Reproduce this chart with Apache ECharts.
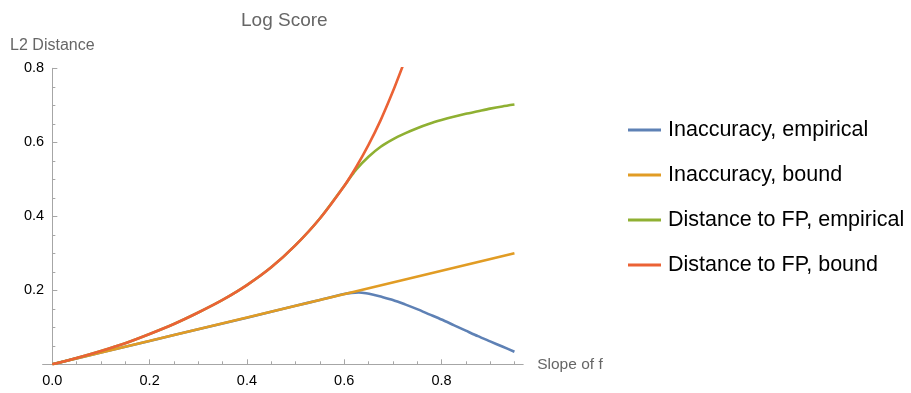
<!DOCTYPE html>
<html>
<head>
<meta charset="utf-8">
<script src="https://cdn.jsdelivr.net/npm/echarts@6/dist/echarts.min.js"></script>
<style>
html,body{margin:0;padding:0;background:#fff;}
#chart{width:911px;height:393px;}
</style>
</head>
<body>
<div id="chart"></div>
<script>
// ---- data ----
const seriesNames = ["Inaccuracy, empirical", "Inaccuracy, bound", "Distance to FP, empirical", "Distance to FP, bound"];
const colors = ["#5E81B5", "#E19C24", "#8FB032", "#EB6235"];

const blueX = [0, 0.1, 0.2, 0.3, 0.4, 0.5, 0.55, 0.6, 0.615, 0.63, 0.645, 0.66, 0.675, 0.7, 0.725, 0.75, 0.775, 0.8, 0.825, 0.85, 0.875, 0.9, 0.925, 0.95];
const blueY = [0, 0.032, 0.063, 0.095, 0.126, 0.158, 0.174, 0.190, 0.193, 0.194, 0.192, 0.188, 0.183, 0.174, 0.162, 0.149, 0.135, 0.121, 0.106, 0.091, 0.076, 0.062, 0.048, 0.034];

const orangeX = [0, 0.95];
const orangeY = [0, 0.300];

const greenX = [0, 0.05, 0.1, 0.15, 0.2, 0.25, 0.3, 0.35, 0.4, 0.45, 0.5, 0.55, 0.6, 0.612, 0.625, 0.65, 0.675, 0.7, 0.725, 0.75, 0.775, 0.8, 0.825, 0.85, 0.875, 0.9, 0.925, 0.95];
const greenY = [0, 0.017, 0.036, 0.057, 0.082, 0.109, 0.140, 0.174, 0.214, 0.262, 0.322, 0.394, 0.482, 0.504, 0.527, 0.561, 0.588, 0.608, 0.624, 0.638, 0.650, 0.660, 0.669, 0.677, 0.684, 0.691, 0.697, 0.702];

const redX = [0, 0.05, 0.1, 0.15, 0.2, 0.25, 0.3, 0.35, 0.4, 0.45, 0.5, 0.55, 0.6, 0.625, 0.65, 0.675, 0.7, 0.72];
const redY = [0, 0.017, 0.036, 0.057, 0.082, 0.109, 0.140, 0.174, 0.214, 0.262, 0.322, 0.394, 0.482, 0.534, 0.593, 0.660, 0.737, 0.805];

const xMajorTicks = [0, 0.2, 0.4, 0.6, 0.8];
const xMinorTicks = [0.05, 0.1, 0.15, 0.25, 0.3, 0.35, 0.45, 0.5, 0.55, 0.65, 0.7, 0.75, 0.85, 0.9, 0.95];
const yMajorTicks = [0.2, 0.4, 0.6, 0.8];
const yMinorTicks = [0.05, 0.1, 0.15, 0.25, 0.3, 0.35, 0.45, 0.5, 0.55, 0.65, 0.7, 0.75];

const titleText = "Log Score";
const xName = "Slope of f";
const yName = "L2 Distance";

// ---- build chart ----
const zip = (xs, ys) => xs.map((x, i) => [x, ys[i]]);
const allData = [zip(blueX, blueY), zip(orangeX, orangeY), zip(greenX, greenY), zip(redX, redY)];

const axisGray = "#a6a6a6";
const FONT = "Liberation Sans, Arial, sans-serif";

const chart = echarts.init(document.getElementById('chart'), null, {renderer: 'canvas'});
chart.setOption({
  animation: false,
  backgroundColor: '#fff',
  textStyle: {fontFamily: FONT},
  title: {
    text: titleText,
    left: 236, top: 6,
    textStyle: {fontSize: 19, fontWeight: 'normal', color: '#666', fontFamily: FONT}
  },
  legend: {
    orient: 'vertical',
    left: 623, top: 113,
    itemWidth: 33, itemHeight: 3,
    itemGap: 21,
    icon: 'rect',
    data: seriesNames,
    textStyle: {fontSize: 21.5, color: '#000', lineHeight: 24, padding: [0, 0, 0, 2], fontFamily: FONT}
  },
  grid: {left: 42.6, top: 68.3, width: 480.6, height: 296, containLabel: false},
  xAxis: [{
    type: 'value', min: -0.02, max: 0.968,
    name: xName, nameLocation: 'end', nameGap: 14,
    nameTextStyle: {fontSize: 15.5, color: '#666', fontFamily: FONT},
    axisLine: {show: true, onZero: true, lineStyle: {color: axisGray, width: 1}},
    axisTick: {show: true, inside: true, length: 5, customValues: xMajorTicks, lineStyle: {color: axisGray}},
    axisLabel: {show: true, customValues: xMajorTicks, margin: 9, fontSize: 14.5, color: '#000',
      formatter: v => v.toFixed(1), fontFamily: FONT},
    splitLine: {show: false}
  }, {
    type: 'value', min: -0.02, max: 0.968, position: 'bottom',
    axisLine: {show: false, onZero: true},
    axisTick: {show: true, inside: true, length: 3, customValues: xMinorTicks, lineStyle: {color: axisGray}},
    axisLabel: {show: false},
    splitLine: {show: false}
  }],
  yAxis: [{
    type: 'value', min: 0, max: 0.8, position: 'left',
    name: yName, nameLocation: 'end', nameGap: 15,
    nameTextStyle: {fontSize: 16, color: '#666', fontFamily: FONT},
    axisLine: {show: true, onZero: true, lineStyle: {color: axisGray, width: 1}},
    axisTick: {show: true, inside: true, length: 5, customValues: yMajorTicks, lineStyle: {color: axisGray}},
    axisLabel: {show: true, customValues: yMajorTicks, margin: -1.5, fontSize: 14.5, color: '#000',
      formatter: v => v.toFixed(1), fontFamily: FONT},
    splitLine: {show: false}
  }, {
    type: 'value', min: 0, max: 0.8, position: 'left',
    axisLine: {show: false, onZero: true},
    axisTick: {show: true, inside: true, length: 3, customValues: yMinorTicks, lineStyle: {color: axisGray}},
    axisLabel: {show: false},
    splitLine: {show: false}
  }],
  series: seriesNames.map((name, i) => ({
    name: name,
    type: 'line',
    xAxisIndex: 0, yAxisIndex: 0,
    data: allData[i],
    showSymbol: false,
    symbol: 'none',
    smooth: 0.25,
    clip: true,
    color: colors[i],
    lineStyle: {color: colors[i], width: 2.6},
    itemStyle: {color: colors[i]},
    z: 2 + i
  }))
});
</script>
</body>
</html>
